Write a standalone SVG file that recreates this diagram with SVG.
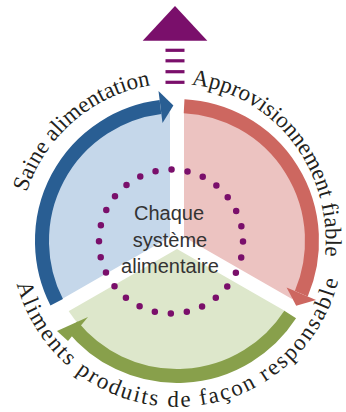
<svg xmlns="http://www.w3.org/2000/svg" width="346" height="412" viewBox="0 0 346 412">
<style>
.curv{font-family:"Liberation Serif","DejaVu Serif",serif;font-size:23px;fill:#231f20}
.ctr{font-family:"Liberation Sans",Arial,sans-serif;font-size:20px;fill:#333;text-anchor:middle}
.band{fill:none;stroke-width:14}
.gap{stroke:#fff;stroke-width:14;stroke-linecap:round}
</style>
<defs>
<path id="pSaine" d="M26.7,192.2 A158,158 0 0 1 171.5,83.1"/>
<path id="pAppro" d="M191.3,84.7 A149,157 0 0 1 324.7,259"/>
<path id="pAlim" d="M16.7,284 A166,166 0 0 0 340.5,269.8"/>
</defs>
<rect width="346" height="412" fill="#fff"/>
<g id="sector-blue"><path d="M177,241 L65.3,305.5 A129,129 0 0 1 177,112 Z" fill="#c5d7ea"/></g>
<g id="sector-red"><path d="M177,241 L177,112 A129,129 0 0 1 288.7,305.5 Z" fill="#ecc3c1"/></g>
<g id="sector-green"><path d="M177,241 L288.7,305.5 A129,129 0 0 1 65.3,305.5 Z" fill="#dde7cb"/></g>
<g id="gaps">
<line class="gap" x1="177" y1="241" x2="177" y2="108"/>
<line class="gap" x1="177" y1="241" x2="292" y2="307"/>
<line class="gap" x1="177" y1="241" x2="62" y2="307"/>
</g>
<g id="ring"><circle cx="171" cy="241.5" r="72" fill="none" stroke="#7a0f6b" stroke-width="6.5" stroke-linecap="round" stroke-dasharray="0 16.157"/></g>
<g id="center-label">
<text class="ctr" x="169" y="220">Chaque</text>
<text class="ctr" x="170" y="247">système</text>
<text class="ctr" x="170" y="273">alimentaire</text>
</g>
<g id="connectors">
<g id="arrow-blue">
<path class="band" stroke="#295e93" d="M56.7,302.3 A135,135 0 0 1 160.5,107"/>
<polygon fill="#295e93" points="158.5,91.1 173.4,105.4 162.5,122.9"/>
</g>
<g id="arrow-red">
<path class="band" stroke="#cd6760" d="M184.1,106.2 A135,135 0 0 1 301.3,293.7"/>
<polygon fill="#cd6760" points="316,299.9 296.2,305.7 286.6,287.4"/>
</g>
<g id="arrow-green">
<path class="band" stroke="#88a04b" d="M290.2,314.5 A135,135 0 0 1 72.1,326"/>
<polygon fill="#88a04b" points="88,317 57,331 68,341"/>
</g>
<g id="arrow-up">
<polygon fill="#7a0f6b" points="175,6 207.3,40.7 142.7,40.7"/>
<rect x="165.5" y="48.7" width="19" height="3.2" fill="#7a0f6b"/>
<rect x="165.5" y="59.2" width="19" height="3.2" fill="#7a0f6b"/>
<rect x="165.5" y="70.1" width="19" height="3.2" fill="#7a0f6b"/>
<rect x="165.5" y="80.7" width="19" height="3.2" fill="#7a0f6b"/>
</g>
</g>
<g id="label-saine"><text class="curv"><textPath href="#pSaine">Saine alimentation</textPath></text></g>
<g id="label-appro"><text class="curv"><textPath href="#pAppro">Approvisionnement fiable</textPath></text></g>
<g id="label-aliments"><text class="curv" letter-spacing="2"><textPath href="#pAlim">Aliments produits de façon responsable</textPath></text></g>
</svg>
